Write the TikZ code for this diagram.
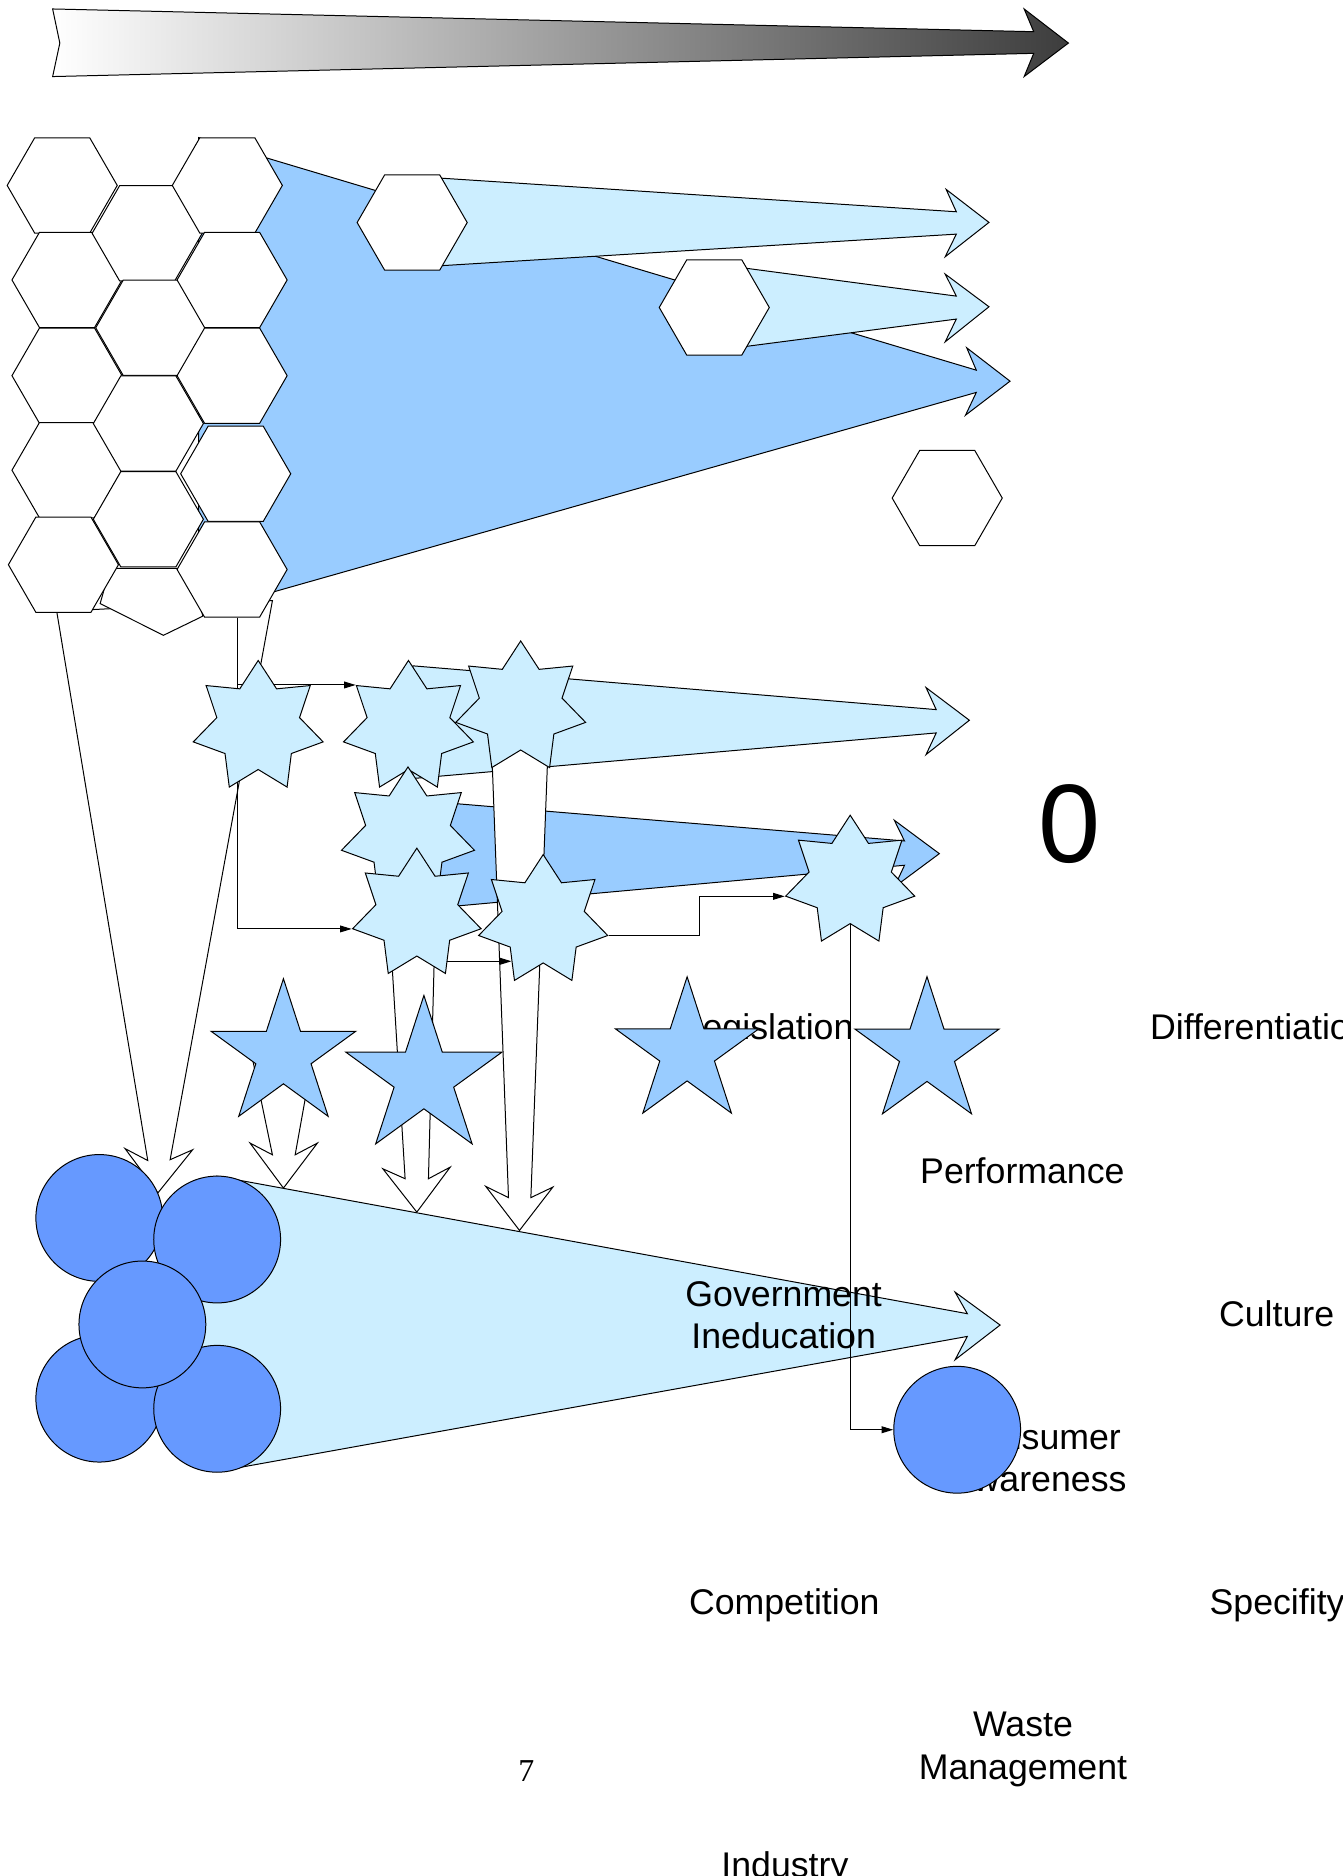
\documentclass[tikz,border=0pt]{standalone}
\usepackage{fontspec}
\setmainfont{Liberation Sans}
\newfontfamily\pagenumfont{Liberation Serif}
\usetikzlibrary{shapes.geometric,arrows.meta,calc}
\pgfdeclarelayer{bg}
\pgfdeclarelayer{links}
\pgfsetlayers{bg,links,main}
\definecolor{paleblue}{HTML}{CCEEFF}
\definecolor{midblue}{HTML}{99CCFF}
\definecolor{ballblue}{HTML}{6699FF}
\tikzset{
  outline/.style={draw=black, line width=0.5pt},
  hexa/.style={outline, fill=white, regular polygon, regular polygon sides=6,
    minimum size=55.2pt, inner sep=0pt},
  sevenstar/.style={outline, fill=paleblue, star, star points=7,
    star point ratio=1.57, inner sep=0pt, minimum size=#1},
  fivestar/.style={outline, fill=midblue, star, star points=5,
    star point ratio=2.62, inner sep=0pt, minimum size=#1},
  ball/.style={outline, fill=ballblue, circle, inner sep=0pt, minimum size=63.6pt},
  blockarrow/.style={outline, fill=#1},
  conn/.style={draw=black, line width=0.5pt, -{Triangle[length=5.8pt,width=3.4pt]}},
  txt/.style={font=\fontsize{17.9pt}{21.2pt}\selectfont, inner sep=0pt,
    anchor=base, align=center},
}
\begin{document}
\begin{tikzpicture}[x=0.6pt, y=-0.6pt]
\useasboundingbox (0,0) rectangle (1122,1568);

\begin{pgfonlayer}{bg}
  \fill[white] (0,0) rectangle (1122,1568);

  % shaded timeline arrow along the top
  \draw[outline, left color=white, right color=black!76]
    (44,7.5) -- (864,26.5) -- (856,7.5) -- (893,36) -- (856,64)
    -- (864,44.6) -- (44,64) -- (50,36) -- cycle;

  % wide arrows leaving the hexagon cluster
  \draw[blockarrow=midblue] (166,115) -- (816,309.4) -- (808,290.7) -- (844.2,318.6)
    -- (807,347) -- (816,328) -- (166,512.5) -- cycle;
  \draw[blockarrow=paleblue] (344,147.3) -- (799.3,177) -- (790.8,158.3) -- (826.6,185.9)
    -- (790,214.6) -- (799.3,195.7) -- (344,223.6) -- cycle;
  \draw[blockarrow=paleblue] (597,220.7) -- (799.3,247.5) -- (790,229.1) -- (826.6,256.4)
    -- (790,285.7) -- (799.3,266.7) -- (597,293) -- cycle;

  % white arrow from the hexagons down to the circles
  \draw[blockarrow=white] (47.4,511) -- (123.5,970) -- (104.5,960) -- (132,997)
    -- (161,961) -- (142.2,969.3) -- (227.7,502) -- cycle;

  % hexagon cluster
  \draw[outline, fill=white] (83.7,504.5) -- (136.6,531) -- (169.5,515)
    -- (160,475) -- (92,475) -- cycle;
  \node[hexa] (h11) at (52,155) {};
  \node[hexa] (h12) at (56,234) {};
  \node[hexa] (h13) at (56,314) {};
  \node[hexa] (h14) at (56,393) {};
  \node[hexa] (h15) at (53,472) {};
  \node[hexa] (h21) at (123,195) {};
  \node[hexa] (h22) at (126,274) {};
  \node[hexa] (h23) at (124,354) {};
  \node[hexa] (h24) at (124,434) {};
  \node[hexa] (h31) at (190,155) {};
  \node[hexa] (h32) at (194,234) {};
  \node[hexa] (h33) at (194,314) {};
  \node[hexa] (h34) at (197,396) {};
  \node[hexa] (h35) at (194,476) {};
  \node[hexa] (ha) at (344.5,186) {};
  \node[hexa] (hb) at (597,257) {};
  \node[hexa] (hc) at (791.7,416.3) {};

  % wide arrows through the star rows
  \draw[blockarrow=paleblue] (345,556.5) -- (782.5,593.1) -- (774,574.7) -- (810.2,602)
    -- (774,630.7) -- (782.5,612.6) -- (345,650.7) -- cycle;
  \draw[blockarrow=midblue] (345,668.7) -- (756,702.9) -- (747.5,685.6) -- (785.1,713.5)
    -- (747.5,741.4) -- (756,723.2) -- (345,760.6) -- cycle;

  % white down arrows into the cone
  \draw[blockarrow=white] (409.6,590) -- (425,1001) -- (406,991.6) -- (434.2,1028.4)
    -- (462.1,992.2) -- (443.7,1001) -- (459.4,590) -- cycle;
  \draw[blockarrow=white] (321,697) -- (338.6,985.2) -- (320,976.9) -- (348.4,1013.1)
    -- (376.3,975.5) -- (358.1,985.2) -- (365.7,697) -- cycle;
  \draw[blockarrow=white] (210,880) -- (227.7,965.2) -- (209,955.4) -- (236.9,993)
    -- (265.3,955.4) -- (246.7,965.2) -- (262,880) -- cycle;

  % cone leaving the circle cluster
  \draw[blockarrow=paleblue] (181,983) -- (808.5,1098) -- (798.3,1080) -- (835.9,1107.5)
    -- (798.3,1136.5) -- (808.5,1117) -- (181,1230) -- (150,1107) -- cycle;

  % labels (two-line labels sit on the baseline of their last line)
  \node[txt] (leg) at (642,869) {Legislation};
  \node[txt] (dif) at (1053,869) {Differentiation};
  \node[txt] (perf) at (854.5,989) {Performance};
  \node[txt] (gov) at (655,1127.5) {Government\\Ineducation};
  \node[txt] (cult) at (1067,1109) {Culture};
  \node[txt] (cons) at (868,1247) {Consumer\\Awareness};
  \node[txt] (comp) at (655.5,1349) {Competition};
  \node[txt] (spec) at (1067.4,1349) {Specifity};
  \node[txt] (waste) at (855,1487) {Waste\\Management};
  \node[txt] (ind) at (656,1569) {Industry};
  \node[font=\fontsize{56pt}{60pt}\selectfont, anchor=base, inner sep=0pt] (zero) at (894,721) {0};
  \node[font=\pagenumfont\fontsize{16pt}{18pt}\selectfont, anchor=base, inner sep=0pt] (pnum) at (440,1489) {7};
\end{pgfonlayer}

% seven-pointed stars
\node[sevenstar=66.8pt] (s1) at (215.8,607.7) {};
\node[sevenstar=66.8pt] (s2) at (341.4,607.7) {};
\node[sevenstar=66.8pt] (s3) at (435.2,591.4) {};
\node[sevenstar=68.4pt] (s4) at (341,698) {};
\node[sevenstar=66.1pt] (s5) at (348.4,764) {};
\node[sevenstar=66.4pt] (s6) at (454,769.6) {};
\node[sevenstar=66.4pt] (s7) at (710.6,736.7) {};

% five-pointed stars
\node[fivestar=76.3pt] (p1) at (236.9,881.6) {};
\node[fivestar=82.3pt] (p2) at (354.3,900.6) {};
\node[fivestar=75.6pt] (p3) at (574.3,879.4) {};
\node[fivestar=76pt] (p4) at (774.8,879.7) {};

% circles
\node[ball] (c1) at (83,1018) {};
\node[ball] (c4) at (83,1169) {};
\node[ball] (c2) at (181.5,1036) {};
\node[ball] (c5) at (181.5,1177.5) {};
\node[ball] (c3) at (119,1107) {};
\node[ball] (cr) at (800,1195) {};

% connectors
\begin{pgfonlayer}{links}
  \draw[conn] ([xshift=2.8pt]h35.south) |- (s5.outer point 3);
  \draw[conn] ([xshift=2.8pt]h35.south |- s2.outer point 2) -- (s2.outer point 2);
  \draw[conn] (s5.-57) -- (s5.-57 -| s6.-128);
  \draw[conn] (s6.outer point 6) -- ++(76,0) |- (s7.outer point 3);
  \draw[conn] (s7.south) |- (cr.west);
\end{pgfonlayer}
\end{tikzpicture}
\end{document}
